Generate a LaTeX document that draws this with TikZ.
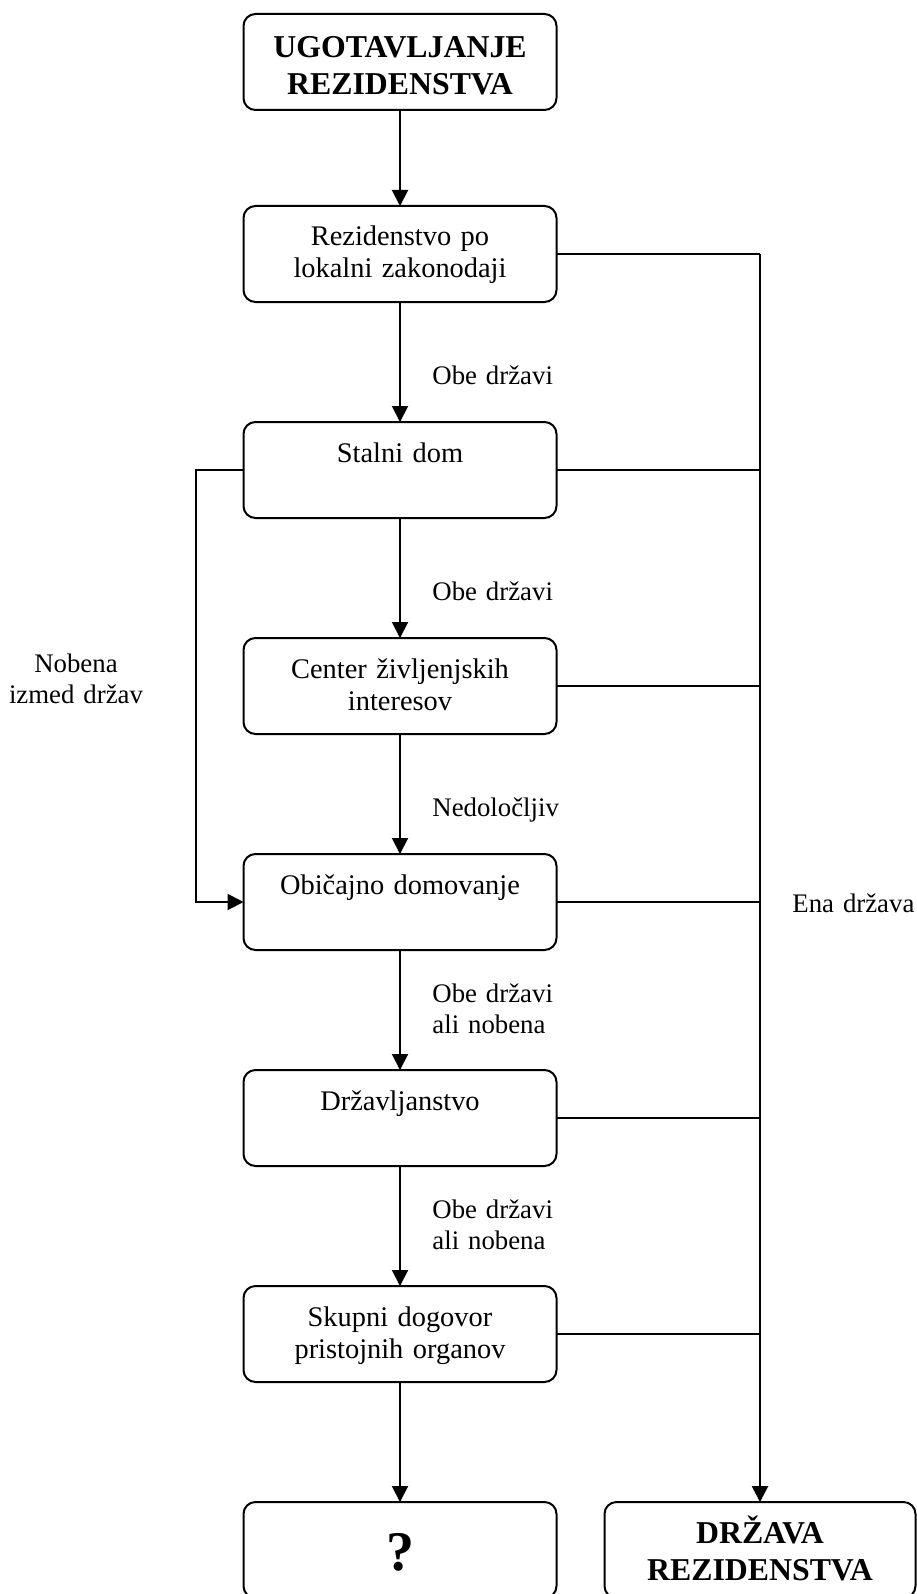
\documentclass[tikz,border=0pt]{standalone}
\usepackage{fontspec}
\setmainfont{Liberation Serif}
\usetikzlibrary{arrows.meta}

\begin{document}
\begin{tikzpicture}[x=0.5pt,y=-0.5pt,
                          box/.style={draw,line width=1pt,rounded corners=6pt,inner sep=0pt,outer sep=0pt,text width=156.5pt,align=center,text height=20pt,text depth=28pt,font=\fontsize{14.2}{16}\selectfont},
                          headbox/.style={box,text height=22pt,text depth=26pt,font=\fontsize{15.9}{18.5}\selectfont\bfseries},
                          lbl/.style={inner sep=0pt,text width=80pt,align=left,font=\fontsize{13.4}{15.5}\selectfont},
                          link/.style={line width=0.85pt},
                          arr/.style={line width=1pt,-{Triangle[length=8pt,width=8pt]}}]
                          \useasboundingbox (0,0) rectangle (916,1594);

                          \node[headbox,anchor=north] (UG) at (400,14) {UGOTAVLJANJE\\REZIDENSTVA};
                          \node[box,anchor=north] (RZ) at (400,206) {Rezidenstvo po\\lokalni zakonodaji};
                          \node[box,anchor=north] (SD) at (400,422) {Stalni dom};
                          \node[box,anchor=north] (CI) at (400,638) {Center življenjskih\\interesov};
                          \node[box,anchor=north] (OD) at (400,854) {Običajno domovanje};
                          \node[box,anchor=north] (DV) at (400,1070) {Državljanstvo};
                          \node[box,anchor=north] (SK) at (400,1286) {Skupni dogovor\\pristojnih organov};
                          \node[box,anchor=north,text height=34pt,text depth=14pt,font=\fontsize{28}{30}\selectfont\bfseries] (Q) at (400,1502) {?};
                          \node[headbox,anchor=north,text width=155.5pt,text height=20.5pt,text depth=27.5pt] (DRZ) at (760,1502) {DRŽAVA\\REZIDENSTVA};

                          \node[lbl,anchor=base west] (OB1) at (432,384) {Obe državi};
                          \node[lbl,anchor=base west] (OB2) at (432,600) {Obe državi};
                          \node[lbl,anchor=base west] (NED) at (432,816) {Nedoločljiv};
                          \node[lbl,anchor=base west] (OB3) at (432,1002) {Obe državi\\ali nobena};
                          \node[lbl,anchor=base west] (OB4) at (432,1218) {Obe državi\\ali nobena};
                          \node[lbl,anchor=base,align=center] (NOB) at (76,672) {Nobena\\izmed držav};
                          \node[lbl,anchor=base west] (ENA) at (792,912) {Ena država};

                          \coordinate (L) at (196,0);
                          \coordinate (S) at (760,0);

                          \draw[arr] (UG) -- (RZ);
                          \draw[arr] (RZ) -- (SD);
                          \draw[arr] (SD) -- (CI);
                          \draw[arr] (CI) -- (OD);
                          \draw[arr] (OD) -- (DV);
                          \draw[arr] (DV) -- (SK);
                          \draw[arr] (SK) -- (Q);
                          \draw[arr] (SD.west) -- (SD.west -| L) |- (OD.west);

                          \draw[link] (RZ.east) -- (RZ.east -| S);
                          \draw[link] (SD.east) -- (SD.east -| S);
                          \draw[link] (CI.east) -- (CI.east -| S);
                          \draw[link] (OD.east) -- (OD.east -| S);
                          \draw[link] (DV.east) -- (DV.east -| S);
                          \draw[link] (SK.east) -- (SK.east -| S);
                          \draw[arr,line width=1.35pt] (RZ.east -| S) -- (DRZ);
\end{tikzpicture}
\end{document}
